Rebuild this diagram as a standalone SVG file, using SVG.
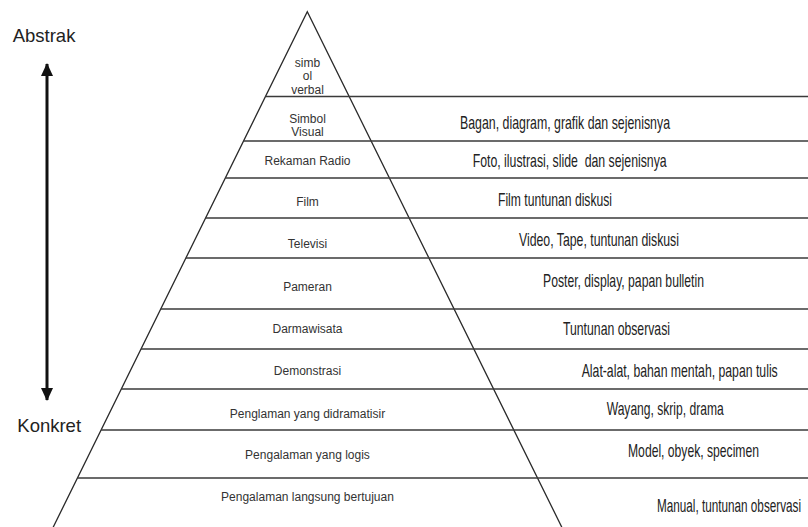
<svg xmlns="http://www.w3.org/2000/svg" width="808" height="527" viewBox="0 0 808 527">
<style>
.bg{fill:#ffffff}
.edge{fill:none;stroke:#2a2a2a;stroke-width:1.3}
.tier{stroke:#3a3a3a;stroke-width:1.6}
.pl{font-family:"Liberation Sans",Arial,sans-serif;font-size:12px;fill:#333333;text-anchor:middle}
.rl{font-family:"Liberation Sans",Arial,sans-serif;font-size:18.5px;fill:#222222}
.side{font-family:"Liberation Sans",Arial,sans-serif;font-size:18.5px;fill:#222222}
.arrow{stroke:#111111;stroke-width:3;fill:none}
</style>
<defs>
<marker id="ah" viewBox="0 0 14 12" refX="12" refY="6" markerWidth="14" markerHeight="12" markerUnits="userSpaceOnUse" orient="auto-start-reverse">
<path d="M0,0 L13,6 L0,12 Z" fill="#111111"/>
</marker>
</defs>
<rect class="bg" x="0" y="0" width="808" height="527"/>
<g id="pyramid">
<polyline class="edge" points="52.3,529 307.3,11.7 562.7,529"/>
<line class="tier" x1="265.5" y1="96.5" x2="808" y2="96.5"/>
<line class="tier" x1="243.6" y1="141" x2="808" y2="141"/>
<line class="tier" x1="225.3" y1="178" x2="808" y2="178"/>
<line class="tier" x1="205.6" y1="218" x2="808" y2="218"/>
<line class="tier" x1="185.9" y1="258" x2="808" y2="258"/>
<line class="tier" x1="160.7" y1="309" x2="808" y2="309"/>
<line class="tier" x1="141" y1="349" x2="808" y2="349"/>
<line class="tier" x1="121.3" y1="389" x2="808" y2="389"/>
<line class="tier" x1="101.1" y1="430" x2="808" y2="430"/>
<line class="tier" x1="77.4" y1="478" x2="808" y2="478"/>
</g>
<g id="tier-simbol-verbal">
<text class="pl" x="307.5" y="66.5">simb</text>
<text class="pl" x="307.5" y="80">ol</text>
<text class="pl" x="307.5" y="93.5">verbal</text>
</g>
<g id="tier-simbol-visual">
<text class="pl" x="307.5" y="122.5">Simbol</text>
<text class="pl" x="307.5" y="136">Visual</text>
<text class="rl" transform="translate(460,129) scale(0.66,1)" textLength="318.2" lengthAdjust="spacingAndGlyphs">Bagan, diagram, grafik dan sejenisnya</text>
</g>
<g id="tier-rekaman-radio">
<text class="pl" x="307.5" y="164.5">Rekaman Radio</text>
<text class="rl" transform="translate(472.7,167) scale(0.66,1)" textLength="293.9" lengthAdjust="spacingAndGlyphs" xml:space="preserve">Foto, ilustrasi, slide  dan sejenisnya</text>
</g>
<g id="tier-film">
<text class="pl" x="307.5" y="206">Film</text>
<text class="rl" transform="translate(498,205.5) scale(0.66,1)" textLength="172.7" lengthAdjust="spacingAndGlyphs">Film tuntunan diskusi</text>
</g>
<g id="tier-televisi">
<text class="pl" x="307.5" y="248">Televisi</text>
<text class="rl" transform="translate(519,245.5) scale(0.66,1)" textLength="242.4" lengthAdjust="spacingAndGlyphs">Video, Tape, tuntunan diskusi</text>
</g>
<g id="tier-pameran">
<text class="pl" x="307.5" y="291">Pameran</text>
<text class="rl" transform="translate(543,287) scale(0.66,1)" textLength="243.9" lengthAdjust="spacingAndGlyphs">Poster, display, papan bulletin</text>
</g>
<g id="tier-darmawisata">
<text class="pl" x="307.5" y="333">Darmawisata</text>
<text class="rl" transform="translate(563,335) scale(0.66,1)" textLength="162.1" lengthAdjust="spacingAndGlyphs">Tuntunan observasi</text>
</g>
<g id="tier-demonstrasi">
<text class="pl" x="307.5" y="375">Demonstrasi</text>
<text class="rl" transform="translate(581.7,376.5) scale(0.66,1)" textLength="297" lengthAdjust="spacingAndGlyphs">Alat-alat, bahan mentah, papan tulis</text>
</g>
<g id="tier-didramatisir">
<text class="pl" x="307.5" y="418">Penglaman yang didramatisir</text>
<text class="rl" transform="translate(606.7,415) scale(0.66,1)" textLength="177.3" lengthAdjust="spacingAndGlyphs">Wayang, skrip, drama</text>
</g>
<g id="tier-logis">
<text class="pl" x="307.5" y="459">Pengalaman yang logis</text>
<text class="rl" transform="translate(628,456.7) scale(0.66,1)" textLength="198.5" lengthAdjust="spacingAndGlyphs">Model, obyek, specimen</text>
</g>
<g id="tier-langsung">
<text class="pl" x="307.5" y="501">Pengalaman langsung bertujuan</text>
<text class="rl" transform="translate(657,511.7) scale(0.66,1)" textLength="218.2" lengthAdjust="spacingAndGlyphs">Manual, tuntunan observasi</text>
</g>
<g id="label-abstrak">
<text class="side" x="12.7" y="41.7">Abstrak</text>
</g>
<g id="label-konkret">
<text class="side" x="17.3" y="431.7">Konkret</text>
</g>
<g id="connectors">
<line class="arrow" x1="47" y1="64" x2="47" y2="400" marker-start="url(#ah)" marker-end="url(#ah)"/>
</g>
</svg>
